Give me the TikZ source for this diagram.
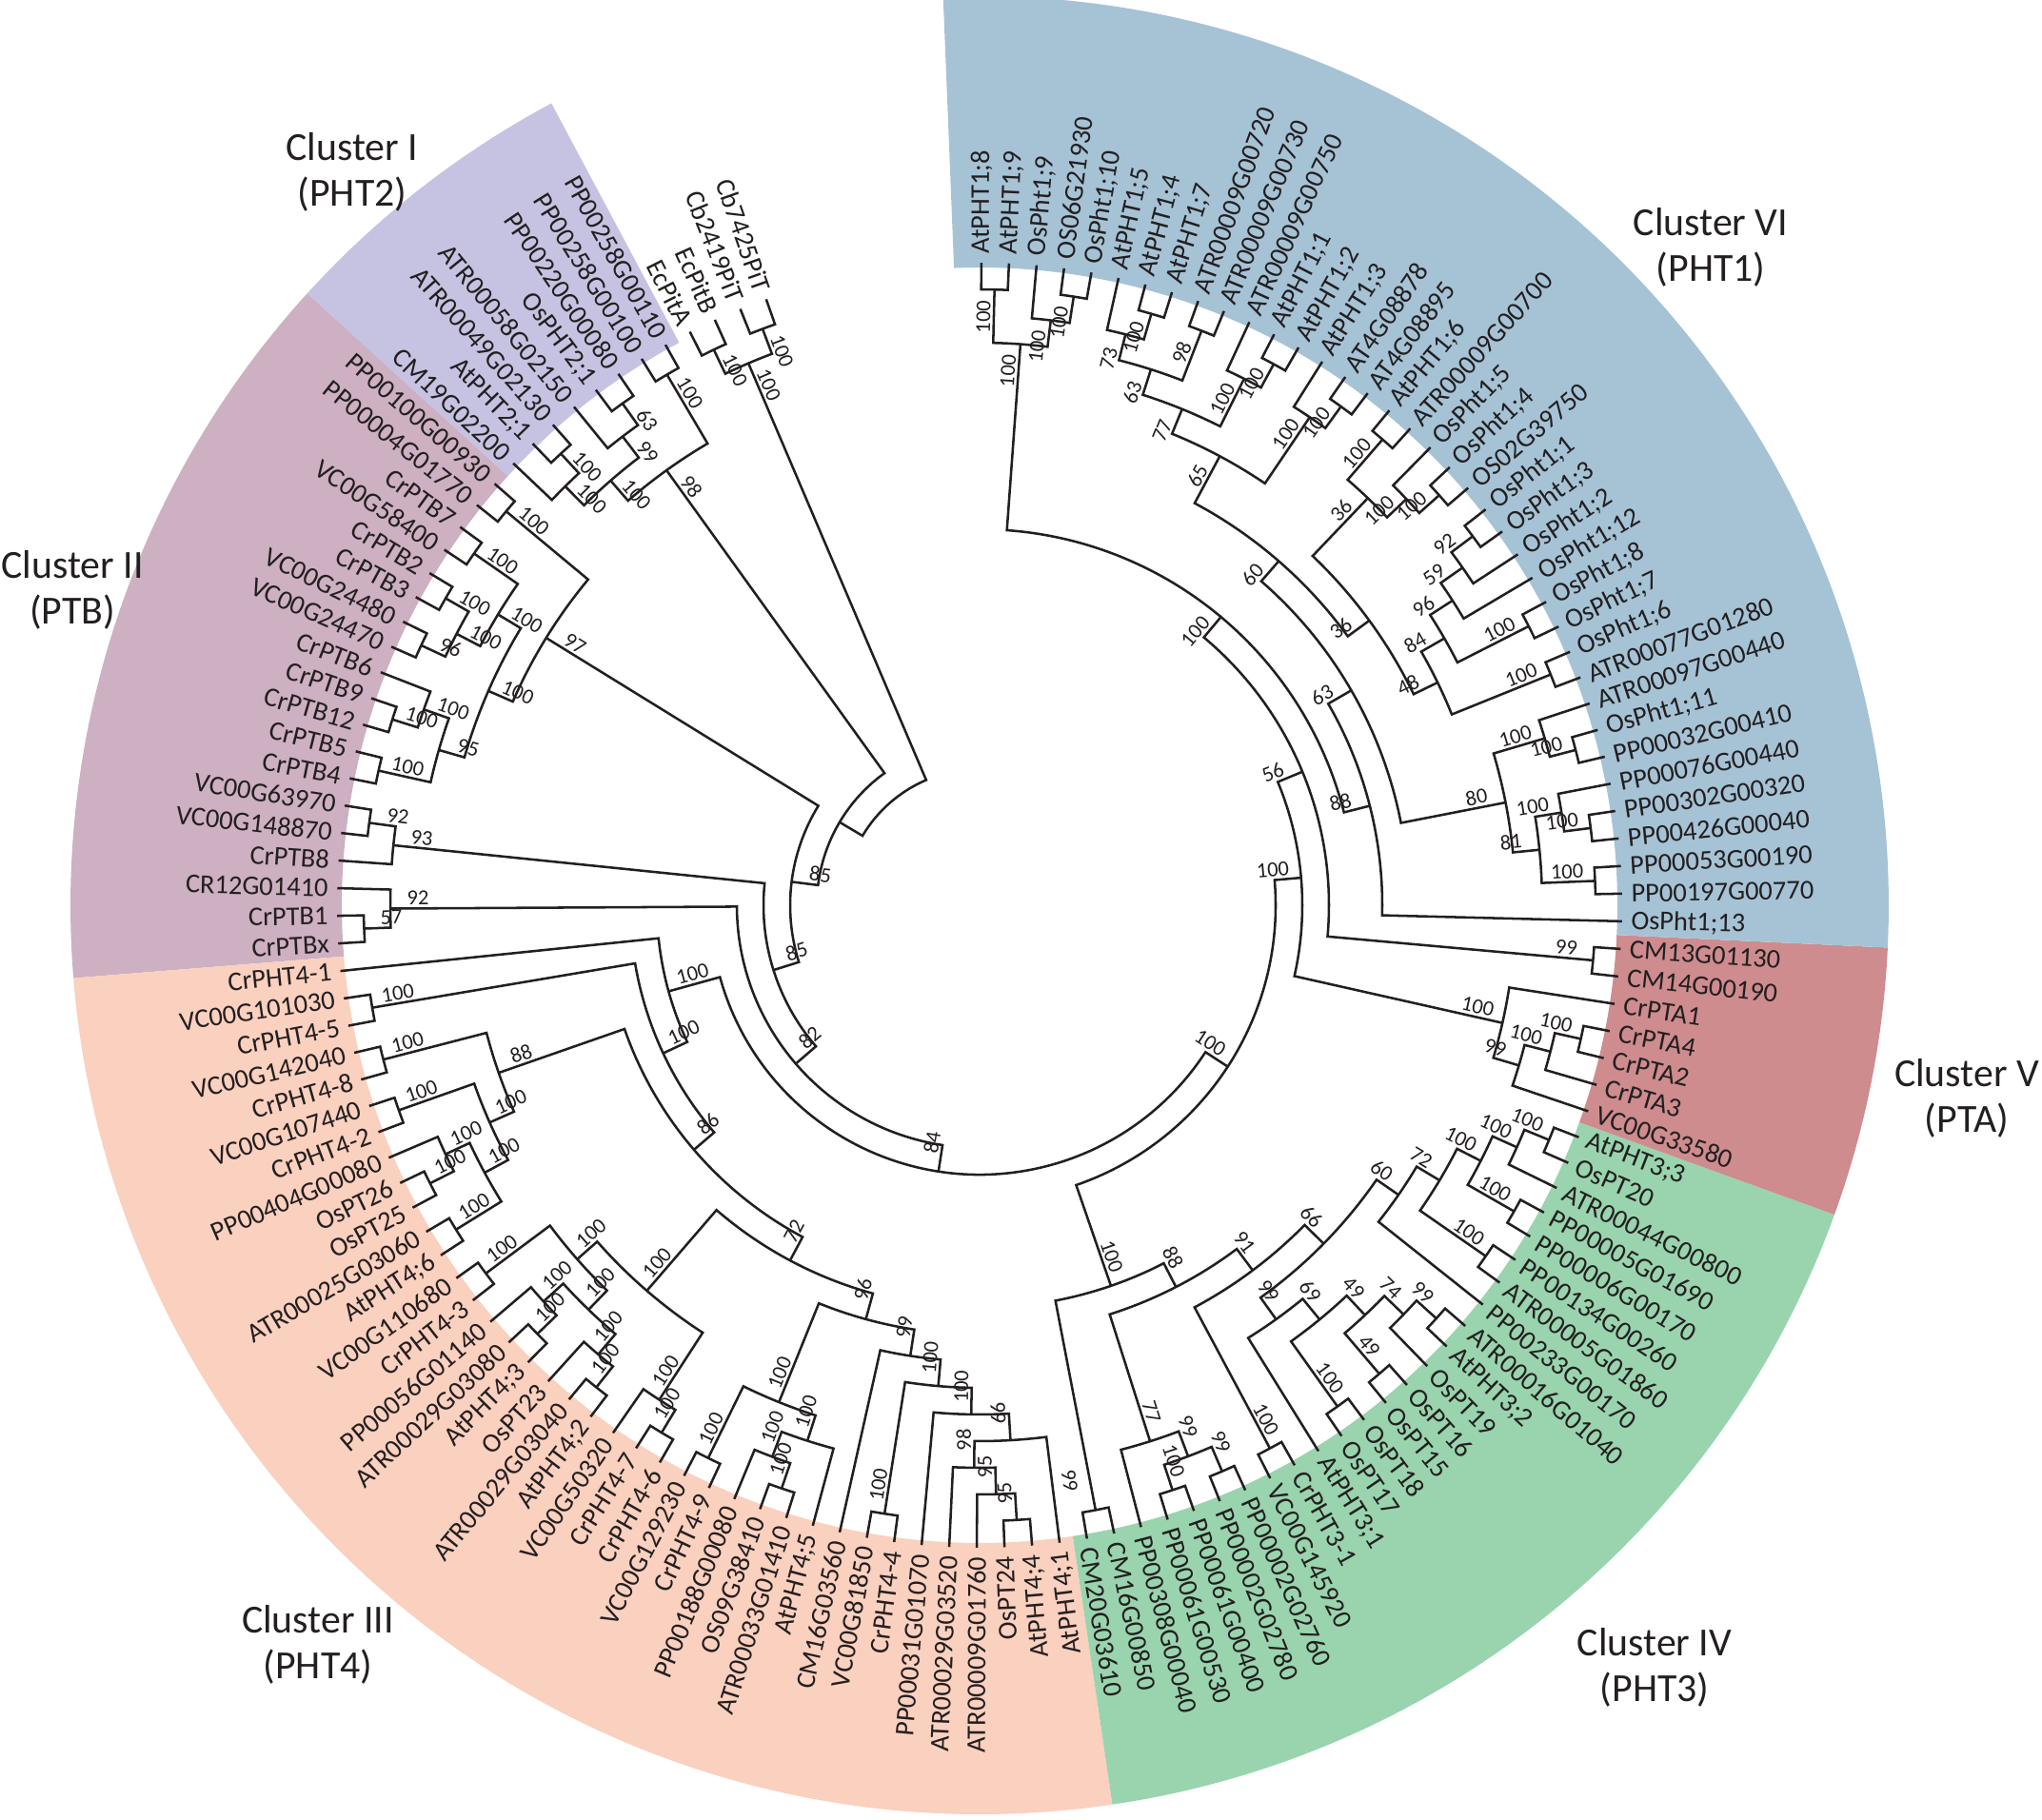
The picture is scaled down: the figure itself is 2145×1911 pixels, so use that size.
\documentclass[tikz,border=0pt]{standalone}
\usepackage{fontspec}
\setmainfont{Carlito}
\definecolor{cI}{RGB}{198,195,226}
\definecolor{cII}{RGB}{205,176,193}
\definecolor{cIII}{RGB}{250,208,191}
\definecolor{cIV}{RGB}{153,212,174}
\definecolor{cV}{RGB}{206,140,143}
\definecolor{cVI}{RGB}{166,195,214}
\definecolor{ink}{RGB}{35,31,32}
\newcommand\Rtip{675}
\newcommand\Stp{28}
\newcommand\tleaf[2]{%
  \pgfmathsetmacro\zzA{109.4+2.467*#1}%
  \expandafter\xdef\csname tA#1\endcsname{\zzA}%
  \expandafter\xdef\csname tH#1\endcsname{0}%
  \pgfmathtruncatemacro\zzF{\zzA<278.5}%
  \ifnum\zzF=1
    \pgfmathsetmacro\zzRot{\zzA-180}%
    \node[leaftxt,rotate=\zzRot,anchor=east] (n#1) at (\zzA:684) {#2};%
  \else
    \node[leaftxt,rotate=\zzA,anchor=west] (n#1) at (\zzA:684) {#2};%
  \fi}
\newcommand\tnode[4]{%
  \edef\zzaA{\csname tA#2\endcsname}\edef\zzaB{\csname tA#3\endcsname}%
  \edef\zzhA{\csname tH#2\endcsname}\edef\zzhB{\csname tH#3\endcsname}%
  \pgfmathsetmacro\zzN{(\zzaA+\zzaB)/2}%
  \pgfmathtruncatemacro\zzH{max(\zzhA,\zzhB)+1}%
  \pgfmathsetmacro\zzR{\Rtip-\zzH*\Stp}%
  \pgfmathsetmacro\zzrA{\Rtip-\zzhA*\Stp}%
  \pgfmathsetmacro\zzrB{\Rtip-\zzhB*\Stp}%
  \draw[br] (\zzaA:\zzrA) -- (\zzaA:\zzR) arc[start angle=\zzaA,end angle=\zzaB,radius=\zzR] -- (\zzaB:\zzrB);%
  \expandafter\xdef\csname tA#1\endcsname{\zzN}%
  \expandafter\xdef\csname tH#1\endcsname{\zzH}%
  \if\relax\detokenize{#4}\relax\else
    \pgfmathtruncatemacro\zzF{\zzN<278.5}%
    \pgfmathsetmacro\zzL{\zzR-29}%
    \ifnum\zzF=1 \pgfmathsetmacro\zzRot{\zzN-180}\else\pgfmathsetmacro\zzRot{\zzN}\fi
    \node[bs,rotate=\zzRot,anchor=south] (b#1) at (\zzN:\zzL) {#4};%
  \fi}
\newcommand\band[3]{\fill[#3] (#1:670) arc[start angle=#1,end angle=#2,radius=670] -- (#2:955) arc[start angle=#2,end angle=#1,radius=955] -- cycle;}
\begin{document}
\begin{tikzpicture}[x=0.1mm,y=0.1mm,
  br/.style={line width=0.72pt,line join=miter,draw=ink},
  leaftxt/.style={font=\fontsize{8.1}{9}\selectfont,inner sep=0pt,text=ink},
  bs/.style={font=\fontsize{6.4}{7}\selectfont,inner sep=0.8pt,text=ink},
  ctitle/.style={font=\fontsize{11.9}{13.8}\selectfont,align=center,inner sep=0pt,text=ink}]
\useasboundingbox (0,0) rectangle (2145,1911);
\begin{scope}
\clip (0,0) rectangle (2145,1911);
\begin{scope}[shift={(1029,960)}]
\band{118.1}{137.7}{cI}
\band{137.7}{184.6}{cII}
\band{184.6}{278.4}{cIII}
\band{278.4}{340.1}{cIV}
\band{340.1}{357.33}{cV}
\band{357.33}{452.3}{cVI}
\end{scope}
\end{scope}
\begin{scope}[shift={(1029,960)}]
\tleaf{0}{Cb7425PiT}
\tleaf{1}{Cb2419PiT}
\tleaf{2}{EcPitB}
\tleaf{3}{EcPitA}
\tleaf{4}{PP00258G00110}
\tleaf{5}{PP00258G00100}
\tleaf{6}{PP00220G00080}
\tleaf{7}{OsPHT2;1}
\tleaf{8}{ATR00058G02150}
\tleaf{9}{ATR00049G02130}
\tleaf{10}{AtPHT2;1}
\tleaf{11}{CM19G02200}
\tleaf{12}{PP00100G00930}
\tleaf{13}{PP00004G01770}
\tleaf{14}{CrPTB7}
\tleaf{15}{VC00G58400}
\tleaf{16}{CrPTB2}
\tleaf{17}{CrPTB3}
\tleaf{18}{VC00G24480}
\tleaf{19}{VC00G24470}
\tleaf{20}{CrPTB6}
\tleaf{21}{CrPTB9}
\tleaf{22}{CrPTB12}
\tleaf{23}{CrPTB5}
\tleaf{24}{CrPTB4}
\tleaf{25}{VC00G63970}
\tleaf{26}{VC00G148870}
\tleaf{27}{CrPTB8}
\tleaf{28}{CR12G01410}
\tleaf{29}{CrPTB1}
\tleaf{30}{CrPTBx}
\tleaf{31}{CrPHT4-1}
\tleaf{32}{VC00G101030}
\tleaf{33}{CrPHT4-5}
\tleaf{34}{VC00G142040}
\tleaf{35}{CrPHT4-8}
\tleaf{36}{VC00G107440}
\tleaf{37}{CrPHT4-2}
\tleaf{38}{PP00404G00080}
\tleaf{39}{OsPT26}
\tleaf{40}{OsPT25}
\tleaf{41}{ATR00025G03060}
\tleaf{42}{AtPHT4;6}
\tleaf{43}{VC00G110680}
\tleaf{44}{CrPHT4-3}
\tleaf{45}{PP00056G01140}
\tleaf{46}{ATR00029G03080}
\tleaf{47}{AtPHT4;3}
\tleaf{48}{OsPT23}
\tleaf{49}{ATR00029G03040}
\tleaf{50}{AtPHT4;2}
\tleaf{51}{VC00G50320}
\tleaf{52}{CrPHT4-7}
\tleaf{53}{CrPHT4-6}
\tleaf{54}{VC00G129230}
\tleaf{55}{CrPHT4-9}
\tleaf{56}{PP00188G00080}
\tleaf{57}{OS09G38410}
\tleaf{58}{ATR00033G01410}
\tleaf{59}{AtPHT4;5}
\tleaf{60}{CM16G03560}
\tleaf{61}{VC00G81850}
\tleaf{62}{CrPHT4-4}
\tleaf{63}{PP00031G01070}
\tleaf{64}{ATR00029G03520}
\tleaf{65}{ATR00009G01760}
\tleaf{66}{OsPT24}
\tleaf{67}{AtPHT4;4}
\tleaf{68}{AtPHT4;1}
\tleaf{69}{CM20G03610}
\tleaf{70}{CM16G00850}
\tleaf{71}{PP00308G00040}
\tleaf{72}{PP00061G00530}
\tleaf{73}{PP00061G00400}
\tleaf{74}{PP00002G02780}
\tleaf{75}{PP00002G02760}
\tleaf{76}{VC00G145920}
\tleaf{77}{CrPHT3-1}
\tleaf{78}{AtPHT3;1}
\tleaf{79}{OsPT17}
\tleaf{80}{OsPT18}
\tleaf{81}{OsPT15}
\tleaf{82}{OsPT16}
\tleaf{83}{OsPT19}
\tleaf{84}{AtPHT3;2}
\tleaf{85}{ATR00016G01040}
\tleaf{86}{PP00233G00170}
\tleaf{87}{ATR00005G01860}
\tleaf{88}{PP00134G00260}
\tleaf{89}{PP00006G00170}
\tleaf{90}{PP00005G01690}
\tleaf{91}{ATR00044G00800}
\tleaf{92}{OsPT20}
\tleaf{93}{AtPHT3;3}
\tleaf{94}{VC00G33580}
\tleaf{95}{CrPTA3}
\tleaf{96}{CrPTA2}
\tleaf{97}{CrPTA4}
\tleaf{98}{CrPTA1}
\tleaf{99}{CM14G00190}
\tleaf{100}{CM13G01130}
\tleaf{101}{OsPht1;13}
\tleaf{102}{PP00197G00770}
\tleaf{103}{PP00053G00190}
\tleaf{104}{PP00426G00040}
\tleaf{105}{PP00302G00320}
\tleaf{106}{PP00076G00440}
\tleaf{107}{PP00032G00410}
\tleaf{108}{OsPht1;11}
\tleaf{109}{ATR00097G00440}
\tleaf{110}{ATR00077G01280}
\tleaf{111}{OsPht1;6}
\tleaf{112}{OsPht1;7}
\tleaf{113}{OsPht1;8}
\tleaf{114}{OsPht1;12}
\tleaf{115}{OsPht1;2}
\tleaf{116}{OsPht1;3}
\tleaf{117}{OsPht1;1}
\tleaf{118}{OS02G39750}
\tleaf{119}{OsPht1;4}
\tleaf{120}{OsPht1;5}
\tleaf{121}{ATR00009G00700}
\tleaf{122}{AtPHT1;6}
\tleaf{123}{AT4G08895}
\tleaf{124}{AT4G08878}
\tleaf{125}{AtPHT1;3}
\tleaf{126}{AtPHT1;2}
\tleaf{127}{AtPHT1;1}
\tleaf{128}{ATR00009G00750}
\tleaf{129}{ATR00009G00730}
\tleaf{130}{ATR00009G00720}
\tleaf{131}{AtPHT1;7}
\tleaf{132}{AtPHT1;4}
\tleaf{133}{AtPHT1;5}
\tleaf{134}{OsPht1;10}
\tleaf{135}{OS06G21930}
\tleaf{136}{OsPht1;9}
\tleaf{137}{AtPHT1;9}
\tleaf{138}{AtPHT1;8}
% top group
\tnode{T1}{0}{1}{100}
\tnode{T2}{2}{3}{100}
\tnode{T3}{T1}{T2}{100}
% cluster I
\tnode{I1}{4}{5}{100}
\tnode{I2}{6}{7}{63}
\tnode{I3}{I2}{8}{99}
\tnode{I4}{9}{10}{100}
\tnode{I5}{I4}{11}{100}
\tnode{I6}{I3}{I5}{100}
\tnode{I7}{I1}{I6}{98}
% cluster II
\tnode{B1}{12}{13}{100}
\tnode{B2}{14}{15}{100}
\tnode{B3}{16}{17}{100}
\tnode{B4}{18}{19}{96}
\tnode{B5}{B3}{B4}{100}
\tnode{B6}{B2}{B5}{100}
\tnode{B7}{21}{22}{100}
\tnode{B8}{20}{B7}{100}
\tnode{B9}{23}{24}{100}
\tnode{B10}{B8}{B9}{95}
\tnode{B11}{B6}{B10}{100}
\tnode{B12}{B1}{B11}{97}
\tnode{B13}{25}{26}{92}
\tnode{B14}{B13}{27}{93}
\tnode{B15}{29}{30}{57}
\tnode{B16}{28}{B15}{92}
% cluster III
\tnode{A1}{32}{33}{100}
\tnode{A2}{34}{35}{100}
\tnode{A3}{36}{37}{100}
\tnode{A4}{39}{40}{100}
\tnode{A5}{38}{A4}{100}
\tnode{A6}{41}{42}{100}
\tnode{A7}{A5}{A6}{100}
\tnode{A8}{A3}{A7}{100}
\tnode{A9}{A2}{A8}{88}
\tnode{A11}{43}{44}{100}
\tnode{A12}{46}{47}{100}
\tnode{A13}{45}{A12}{100}
\tnode{A14}{49}{50}{100}
\tnode{A15}{48}{A14}{100}
\tnode{A16}{A13}{A15}{100}
\tnode{A17}{A11}{A16}{100}
\tnode{Z1}{52}{53}{100}
\tnode{Z2}{51}{Z1}{100}
\tnode{A18}{A17}{Z2}{100}
\tnode{Y1}{54}{55}{100}
\tnode{Y2}{57}{58}{100}
\tnode{Y3}{56}{Y2}{100}
\tnode{Y4}{Y3}{59}{100}
\tnode{Y5}{Y1}{Y4}{100}
\tnode{X1}{66}{67}{95}
\tnode{X2}{65}{X1}{95}
\tnode{X3}{64}{X2}{98}
\tnode{X4}{X3}{68}{66}
\tnode{X5}{63}{X4}{100}
\tnode{X0}{61}{62}{100}
\tnode{X6}{X0}{X5}{100}
\tnode{X7}{60}{X6}{99}
\tnode{X8}{Y5}{X7}{96}
\tnode{X9}{A18}{X8}{72}
\tnode{X10}{A9}{X9}{86}
\tnode{C7}{A1}{X10}{100}
\tnode{C3}{31}{C7}{100}
% cluster IV
\tnode{S1}{69}{70}{}
\tnode{S2}{72}{73}{100}
\tnode{S3}{74}{75}{99}
\tnode{S4}{S2}{S3}{99}
\tnode{S5}{71}{S4}{77}
\tnode{S6}{76}{77}{100}
\tnode{R1}{84}{85}{99}
\tnode{R2}{83}{R1}{74}
\tnode{R3}{81}{82}{49}
\tnode{R4}{R3}{R2}{49}
\tnode{R5}{79}{80}{100}
\tnode{R6}{R5}{R4}{69}
\tnode{R7}{78}{R6}{99}
\tnode{Q1}{92}{93}{100}
\tnode{Q2}{91}{Q1}{100}
\tnode{Q3}{89}{90}{100}
\tnode{Q4}{Q3}{Q2}{100}
\tnode{Q5}{87}{88}{100}
\tnode{Q6}{Q5}{Q4}{72}
\tnode{Q7}{86}{Q6}{60}
\tnode{W66}{R7}{Q7}{66}
\tnode{W91}{S6}{W66}{91}
\tnode{W88}{S5}{W91}{88}
\tnode{N4}{S1}{W88}{100}
% cluster V
\tnode{P1}{96}{97}{100}
\tnode{P2}{95}{P1}{100}
\tnode{P3}{94}{P2}{99}
\tnode{P4}{P3}{98}{100}
\tnode{CM}{99}{100}{99}
% cluster VI
\tnode{V1}{137}{138}{100}
\tnode{V2}{134}{135}{100}
\tnode{V3}{V2}{136}{100}
\tnode{V4}{V3}{V1}{100}
\tnode{V5}{131}{132}{100}
\tnode{V6}{V5}{133}{73}
\tnode{V7}{129}{130}{98}
\tnode{V8}{V7}{V6}{63}
\tnode{V9}{126}{127}{100}
\tnode{V11}{V9}{128}{100}
\tnode{V12}{V11}{V8}{77}
\tnode{V10}{123}{124}{100}
\tnode{V13}{V10}{125}{100}
\tnode{V14}{V13}{V12}{65}
\tnode{V15}{121}{122}{100}
\tnode{V26}{118}{119}{100}
\tnode{V27}{V26}{120}{100}
\tnode{V16}{V27}{V15}{36}
\tnode{V22}{116}{117}{92}
\tnode{V23}{115}{V22}{59}
\tnode{V24}{114}{V23}{96}
\tnode{V21}{112}{113}{100}
\tnode{V25}{V21}{V24}{84}
\tnode{V20}{110}{111}{100}
\tnode{Ve}{V20}{V25}{48}
\tnode{Vi}{Ve}{V16}{36}
\tnode{Vk}{Vi}{V14}{60}
\tnode{U1}{107}{108}{100}
\tnode{U2}{U1}{109}{100}
\tnode{L1}{104}{105}{100}
\tnode{L2}{L1}{106}{100}
\tnode{L3}{102}{103}{100}
\tnode{L4}{L3}{L2}{81}
\tnode{L5}{L4}{U2}{80}
\tnode{Vl}{L5}{Vk}{63}
\tnode{Vm}{101}{Vl}{88}
\tnode{Vn}{Vm}{V4}{100}
% backbone
\tnode{G56}{CM}{Vn}{56}
\tnode{G7}{P4}{G56}{100}
\tnode{G6}{N4}{G7}{100}
\tnode{G84}{C3}{G6}{84}
\tnode{G82}{B16}{G84}{82}
\tnode{G85b}{B14}{G82}{85}
\tnode{G85a}{B12}{G85b}{85}
\tnode{G1}{I7}{G85a}{}
\tnode{G0}{T3}{G1}{}
\node[bs,rotate=278.9] (bx99) at (278.9:612) {99};
\end{scope}
\node[ctitle] (tI) at (370,1730) {Cluster I\\(PHT2)};
\node[ctitle] (tII) at (76,1291) {Cluster II\\(PTB)};
\node[ctitle] (tIII) at (334,183) {Cluster III\\(PHT4)};
\node[ctitle] (tIV) at (1738,159) {Cluster IV\\(PHT3)};
\node[ctitle] (tV) at (2066,757) {Cluster V\\(PTA)};
\node[ctitle] (tVI) at (1797,1651) {Cluster VI\\(PHT1)};
\end{tikzpicture}
\end{document}
